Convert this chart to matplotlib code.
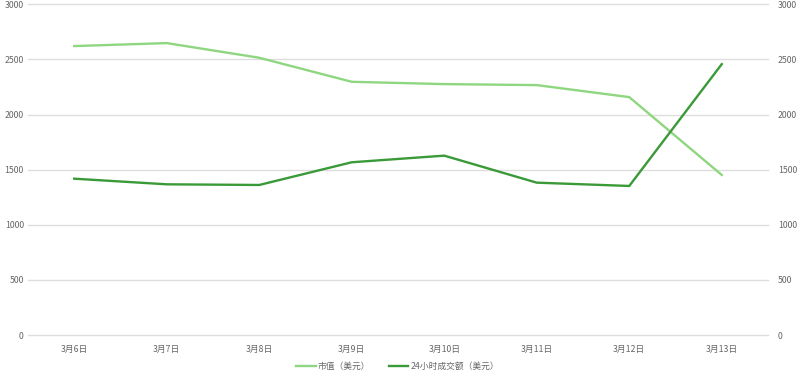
import numpy as np
import matplotlib.pyplot as plt

plt.rcParams['font.family'] = ['Noto Sans CJK SC', 'DejaVu Sans']

# Datos
fechas = ["3月6日", "3月7日", "3月8日", "3月9日", "3月10日", "3月11日", "3月12日", "3月13日"]
market_cap = [2621, 2648, 2515, 2297, 2276, 2267, 2158, 1452]
volume_24h = [1418, 1367, 1361, 1567, 1627, 1382, 1352, 2457]
ticks = [0, 500, 1000, 1500, 2000, 2500, 3000]

c_light = "#8fd680"
c_dark = "#3a9a38"
c_text = "#666666"

fig = plt.figure(figsize=(8, 3.77), dpi=100)
ax = fig.add_axes([0.035, 0.1114, 0.925, 0.8772])
ax2 = ax.twinx()

x = np.arange(len(fechas))
l1, = ax.plot(x, market_cap, color=c_light, linewidth=1.7, label="市值（美元）")
l2, = ax2.plot(x, volume_24h, color=c_dark, linewidth=1.7, label="24小时成交额（美元）")

for a in (ax, ax2):
    a.set_ylim(0, 3000)
    a.set_yticks(ticks)
    a.set_xlim(-0.5, len(fechas) - 0.5)
    for s in a.spines.values():
        s.set_visible(False)
    a.tick_params(length=0, labelsize=6.3, colors=c_text)

ax.set_xticks(x)
ax.set_xticklabels(fechas)
ax.tick_params(axis="x", pad=7)
ax.tick_params(axis="y", pad=3)
ax2.tick_params(axis="y", pad=7)
ax.grid(axis="y", color="#dedede", linewidth=1)
for gl in ax.get_ygridlines():
    gl.set_clip_on(False)
ax.set_axisbelow(True)

fig.legend(handles=[l1, l2], loc="center", bbox_to_anchor=(0.497, 0.027), ncol=2,
           frameon=False, fontsize=6.3, labelcolor=c_text, handlelength=2.2,
           handletextpad=0.2, columnspacing=2.2)

fig.savefig("out.png", dpi=100)
